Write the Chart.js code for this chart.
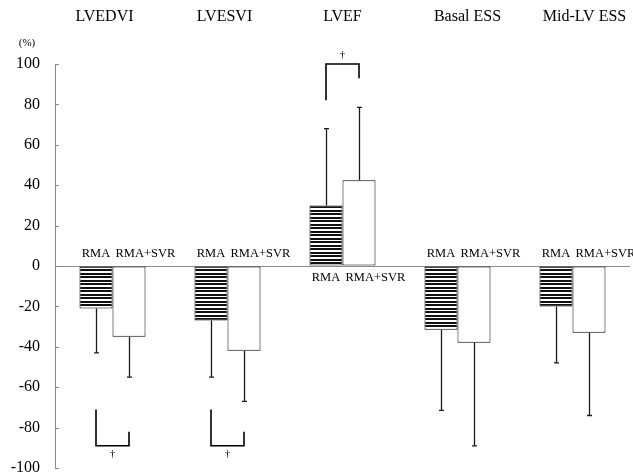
<!DOCTYPE html>
<html>
<head>
<meta charset="utf-8">
<script src="https://cdn.jsdelivr.net/npm/chart.js@4/dist/chart.umd.min.js"></script>
<style>
  html, body { margin: 0; padding: 0; background: #fff; }
  #wrap { width: 633px; height: 475px; }
  #c { display: block; }
</style>
</head>
<body>
<div id="wrap"><canvas id="c" width="633" height="475"></canvas></div>
<script>
// Percent change after RMA alone vs RMA+SVR (mean with one-sided SD)
const categories = ['LVEDVI', 'LVESVI', 'LVEF', 'Basal ESS', 'Mid-LV ESS'];
const seriesNames = ['RMA', 'RMA+SVR'];
const rmaMean = [-21, -27, 30, -31.5, -20];
const rmaSD   = [22, 28, 38, 40, 28];
const svrMean = [-35, -42, 42.5, -38, -33];
const svrSD   = [20, 25, 36, 51, 41];
const yTicks  = [100, 80, 60, 40, 20, 0, -20, -40, -60, -80, -100];
const yUnit   = '(%)';
// significance brackets: category, end values of the two legs, level of the bar
const brackets = [
  { cat: 0, ends: [-71, -82], level: -89, mark: '\u2020' },
  { cat: 1, ends: [-71, -82], level: -89, mark: '\u2020' },
  { cat: 2, ends: [82, 93],  level: 100, mark: '\u2020' }
];
const titleShift = [-8, -3, 0, 10, 12];

const SERIF = '"Liberation Serif", "DejaVu Serif", serif';

// horizontal line hatching for the RMA bars
function hatch() {
  const p = document.createElement('canvas');
  p.width = 8; p.height = 7;
  const g = p.getContext('2d');
  g.fillStyle = '#fff'; g.fillRect(0, 0, 8, 7);
  g.fillStyle = '#111';
  g.fillRect(0, 0, 8, 2);
  g.fillRect(0, 3, 8, 2);
  return g.createPattern(p, 'repeat');
}

const overlay = {
  id: 'overlay',
  afterDatasetsDraw(chart) {
    const ctx = chart.ctx;
    const xs = chart.scales.x, ys = chart.scales.y;
    const area = chart.chartArea;
    ctx.save();

    // inward tick marks on the value axis
    ctx.strokeStyle = '#888'; ctx.lineWidth = 1;
    yTicks.forEach(v => {
      const y = Math.round(ys.getPixelForValue(v)) + 0.5;
      ctx.beginPath(); ctx.moveTo(area.left, y); ctx.lineTo(area.left + 4, y); ctx.stroke();
    });

    // one-sided error bars
    const means = [rmaMean, svrMean], sds = [rmaSD, svrSD];
    ctx.strokeStyle = '#1a1a1a'; ctx.lineWidth = 1.3;
    [0, 1].forEach(d => {
      const meta = chart.getDatasetMeta(d);
      meta.data.forEach((bar, i) => {
        const m = means[d][i];
        const end = m + (m >= 0 ? sds[d][i] : -sds[d][i]);
        const x = Math.round(bar.x) + 0.5;
        const y0 = bar.y, y1 = ys.getPixelForValue(end);
        ctx.beginPath();
        ctx.moveTo(x, y0); ctx.lineTo(x, y1);
        ctx.moveTo(x - 2.5, y1); ctx.lineTo(x + 2.5, y1);
        ctx.stroke();
      });
    });

    // series names next to each pair of bars
    ctx.fillStyle = '#000';
    ctx.font = '12.5px ' + SERIF;
    ctx.textBaseline = 'alphabetic';
    const m0 = chart.getDatasetMeta(0), m1 = chart.getDatasetMeta(1);
    const zero = ys.getPixelForValue(0);
    categories.forEach((c, i) => {
      const b0 = m0.data[i], b1 = m1.data[i];
      const y = rmaMean[i] >= 0 ? zero + 15 : zero - 9;
      ctx.textAlign = 'center';
      ctx.fillText(seriesNames[0], b0.x, y);
      ctx.textAlign = 'left';
      ctx.fillText(seriesNames[1], b1.x - b1.width / 2 + 3, y);
    });

    // significance brackets
    ctx.strokeStyle = '#000'; ctx.lineWidth = 1.6;
    ctx.font = '11px ' + SERIF;
    ctx.textAlign = 'center';
    brackets.forEach(br => {
      const xa = m0.data[br.cat].x, xb = m1.data[br.cat].x;
      const ya = ys.getPixelForValue(br.ends[0]);
      const yb = ys.getPixelForValue(br.ends[1]);
      const yl = ys.getPixelForValue(br.level);
      ctx.beginPath();
      ctx.moveTo(xa, ya); ctx.lineTo(xa, yl); ctx.lineTo(xb, yl); ctx.lineTo(xb, yb);
      ctx.stroke();
      const up = br.level > 0;
      ctx.textBaseline = 'middle';
      ctx.fillText(br.mark, (xa + xb) / 2, up ? yl - 9 : yl + 8);
    });

    // category titles across the top
    ctx.font = '16px ' + SERIF;
    ctx.textBaseline = 'middle';
    ctx.textAlign = 'center';
    categories.forEach((c, i) => {
      ctx.fillText(c, xs.getPixelForValue(i) + titleShift[i], 17);
    });

    // unit above the value axis
    ctx.font = '11px ' + SERIF;
    ctx.fillText(yUnit, 27, 43);

    ctx.restore();
  }
};

new Chart(document.getElementById('c'), {
  type: 'bar',
  data: {
    labels: categories,
    datasets: [
      { label: seriesNames[0], data: rmaMean, backgroundColor: hatch(),
        borderColor: '#000', borderWidth: 1, borderSkipped: false,
        barPercentage: 1, categoryPercentage: 0.574 },
      { label: seriesNames[1], data: svrMean, backgroundColor: '#fff',
        borderColor: '#000', borderWidth: 1, borderSkipped: false,
        barPercentage: 1, categoryPercentage: 0.574 }
    ]
  },
  options: {
    responsive: false,
    animation: false,
    devicePixelRatio: 1,
    layout: { padding: { top: 64, bottom: 7, right: 3, left: 0 } },
    plugins: { legend: { display: false }, tooltip: { enabled: false } },
    scales: {
      x: { type: 'category', display: false, offset: true },
      y: {
        min: -100, max: 100,
        afterFit: s => { s.width = 55; },
        afterBuildTicks: s => { s.ticks = yTicks.map(v => ({ value: v })); },
        ticks: { color: '#000', padding: 0, font: { family: SERIF, size: 16, lineHeight: 0.8 } },
        grid: {
          drawTicks: true,
          tickLength: 15,
          tickColor: 'rgba(0,0,0,0)',
          color: c => (c.tick && c.tick.value === 0) ? '#8a8a8a' : 'rgba(0,0,0,0)',
          lineWidth: 1
        },
        border: { display: true, color: '#8a8a8a', width: 1 }
      }
    }
  },
  plugins: [overlay]
});
</script>
</body>
</html>
